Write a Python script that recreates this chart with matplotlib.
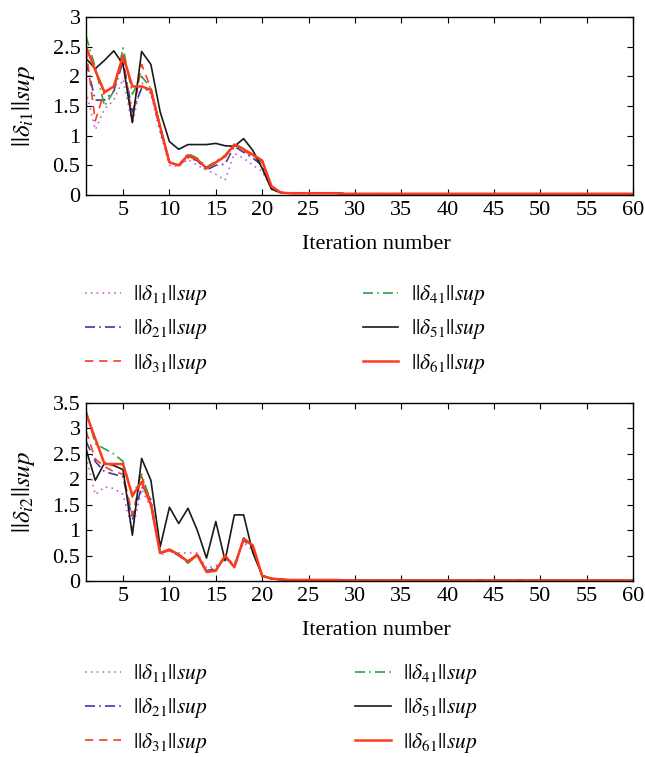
import matplotlib
matplotlib.use("Agg")
import matplotlib.pyplot as plt
import numpy as np

plt.rcParams['font.family'] = ['Liberation Serif', 'DejaVu Serif']
plt.rcParams['mathtext.fontset'] = 'stix'

iterations = list(range(1, 61))

# common tail (iterations 22..60) of near-zero values
tail_top = [0.04, 0.03, 0.03, 0.03, 0.03, 0.03, 0.03, 0.02, 0.02, 0.02,
            0.02, 0.02, 0.02, 0.02, 0.02, 0.02, 0.02, 0.02, 0.02, 0.02,
            0.02, 0.02, 0.02, 0.02, 0.02, 0.02, 0.02, 0.02, 0.02, 0.02,
            0.02, 0.02, 0.02, 0.02, 0.02, 0.02, 0.02, 0.02, 0.02]
tail_bot = [0.03, 0.02, 0.02, 0.02, 0.02, 0.02, 0.02, 0.01, 0.01, 0.01,
            0.01, 0.01, 0.01, 0.01, 0.01, 0.01, 0.01, 0.01, 0.01, 0.01,
            0.01, 0.01, 0.01, 0.01, 0.01, 0.01, 0.01, 0.01, 0.01, 0.01,
            0.01, 0.01, 0.01, 0.01, 0.01, 0.01, 0.01, 0.01, 0.01]

# ---- top panel: ||delta_i1|| (iterations 1..21)
d11_top = [1.75, 1.10, 1.45, 1.60, 1.95, 1.20, 1.90, 1.70, 1.05, 0.50,
           0.48, 0.60, 0.50, 0.42, 0.35, 0.25, 0.70, 0.62, 0.50, 0.40, 0.10]
d21_top = [2.25, 1.60, 1.60, 1.75, 2.25, 1.40, 1.80, 1.75, 1.10, 0.55,
           0.50, 0.63, 0.58, 0.42, 0.50, 0.52, 0.82, 0.72, 0.62, 0.50, 0.10]
d31_top = [2.45, 1.25, 1.75, 1.80, 2.30, 1.30, 2.20, 1.80, 1.15, 0.55,
           0.50, 0.65, 0.60, 0.45, 0.55, 0.65, 0.85, 0.75, 0.65, 0.55, 0.12]
d41_top = [2.68, 2.15, 1.50, 1.75, 2.48, 1.70, 2.00, 1.80, 1.15, 0.55,
           0.50, 0.70, 0.62, 0.47, 0.57, 0.67, 0.87, 0.78, 0.67, 0.55, 0.15]
d51_top = [2.30, 2.13, 2.27, 2.43, 2.20, 1.22, 2.42, 2.20, 1.40, 0.90,
           0.77, 0.85, 0.85, 0.85, 0.87, 0.83, 0.82, 0.95, 0.75, 0.45, 0.10]
d61_top = [2.50, 2.10, 1.73, 1.83, 2.35, 1.83, 1.83, 1.77, 1.15, 0.55,
           0.50, 0.67, 0.60, 0.45, 0.55, 0.65, 0.85, 0.77, 0.68, 0.58, 0.15]

# ---- bottom panel: ||delta_i2|| (iterations 1..21)
d11_bot = [2.45, 1.70, 1.85, 1.82, 1.70, 1.00, 1.80, 1.45, 0.50, 0.60,
           0.55, 0.55, 0.55, 0.25, 0.30, 0.45, 0.35, 0.75, 0.60, 0.10, 0.05]
d21_bot = [2.75, 2.35, 2.15, 2.10, 2.05, 1.20, 1.85, 1.60, 0.55, 0.60,
           0.50, 0.40, 0.50, 0.20, 0.25, 0.45, 0.30, 0.80, 0.65, 0.10, 0.05]
d31_bot = [2.95, 2.40, 2.25, 2.15, 2.10, 1.30, 2.05, 1.55, 0.55, 0.60,
           0.50, 0.38, 0.50, 0.18, 0.20, 0.50, 0.27, 0.82, 0.68, 0.10, 0.05]
d41_bot = [3.35, 2.70, 2.60, 2.50, 2.35, 1.65, 2.10, 1.55, 0.55, 0.62,
           0.50, 0.35, 0.50, 0.20, 0.22, 0.48, 0.28, 0.85, 0.68, 0.10, 0.05]
d51_bot = [2.60, 1.98, 2.32, 2.27, 2.19, 0.90, 2.41, 1.98, 0.67, 1.45,
           1.13, 1.43, 1.00, 0.45, 1.17, 0.40, 1.30, 1.30, 0.55, 0.11, 0.04]
d61_bot = [3.30, 2.80, 2.30, 2.30, 2.30, 1.68, 1.95, 1.50, 0.55, 0.62,
           0.52, 0.38, 0.52, 0.18, 0.20, 0.50, 0.27, 0.83, 0.70, 0.10, 0.05]

top_series = [d11_top, d21_top, d31_top, d41_top, d51_top, d61_top]
bot_series = [d11_bot, d21_bot, d31_bot, d41_bot, d51_bot, d61_bot]

legend_labels = [r'$||\delta_{11}||\mathit{sup}$', r'$||\delta_{21}||\mathit{sup}$',
                 r'$||\delta_{31}||\mathit{sup}$', r'$||\delta_{41}||\mathit{sup}$',
                 r'$||\delta_{51}||\mathit{sup}$', r'$||\delta_{61}||\mathit{sup}$']

styles = [
    dict(color='#d060d0', linestyle=(0, (1, 2.5)), linewidth=1.2),
    dict(color='#3a3aa8', linestyle=(0, (6, 2.5, 1, 2.5)), linewidth=1.2),
    dict(color='#ff3a1a', linestyle=(0, (5, 3.5)), linewidth=1.2),
    dict(color='#30a040', linestyle=(0, (6, 2.5, 1, 2.5)), linewidth=1.2),
    dict(color='#1a1a1a', linestyle='-', linewidth=1.2),
    dict(color='#ff3a1a', linestyle='-', linewidth=1.8),
]

xticks = [5, 10, 15, 20, 25, 30, 35, 40, 45, 50, 55, 60]
yticks_top = [0, 0.5, 1, 1.5, 2, 2.5, 3]
yticks_bot = [0, 0.5, 1, 1.5, 2, 2.5, 3, 3.5]
ytlabels_top = ['0', '0.5', '1', '1.5', '2', '2.5', '3']
ytlabels_bot = ['0', '0.5', '1', '1.5', '2', '2.5', '3', '3.5']

fig = plt.figure(figsize=(6.45, 7.57), dpi=100)
W, H = 645, 757

def make_axes(left, top, right, bottom):
    return fig.add_axes([left / W, 1 - bottom / H, (right - left) / W, (bottom - top) / H])

ax1 = make_axes(86, 17, 633, 195)
ax2 = make_axes(86, 403, 633, 581)

FS = 16

def setup(ax, series, tail, yticks, ylabels, ylim, idx, legend_y, col2x):
    handles = []
    for s, st, lab in zip(series, styles, legend_labels):
        y = s + tail
        h, = ax.plot(iterations, y, label=lab, **st)
        handles.append(h)
    ax.set_xlim(1, 60)
    ax.set_ylim(*ylim)
    ax.set_xticks(xticks)
    ax.set_yticks(yticks)
    ax.set_yticklabels(ylabels)
    ax.tick_params(direction='in', top=True, right=True, length=4, labelsize=FS, pad=4)
    for sp in ax.spines.values():
        sp.set_linewidth(1.0)
    ax.set_xlabel('Iteration number', fontsize=16)
    ax.xaxis.set_label_coords((376 - 86) / 547, -40 / 178)
    ax.set_ylabel(r'$||\delta_{i%d}||\mathit{sup}$' % idx, fontsize=18)
    ax.yaxis.set_label_coords(-49 / 547, 0.5)
    leg = fig.legend(handles=handles, loc='upper left', ncol=2,
                     bbox_to_anchor=(66 / W, 1 - legend_y / H), frameon=False,
                     fontsize=15.5, handlelength=1.65, handletextpad=0.58,
                     labelspacing=0.47, columnspacing=col2x)
    return leg

setup(ax1, top_series, tail_top, yticks_top, ytlabels_top, (0, 3), 1, 264, 7.2)
setup(ax2, bot_series, tail_bot, yticks_bot, ytlabels_bot, (0, 3.5), 2, 643, 6.85)

fig.savefig('out.png', dpi=100)
